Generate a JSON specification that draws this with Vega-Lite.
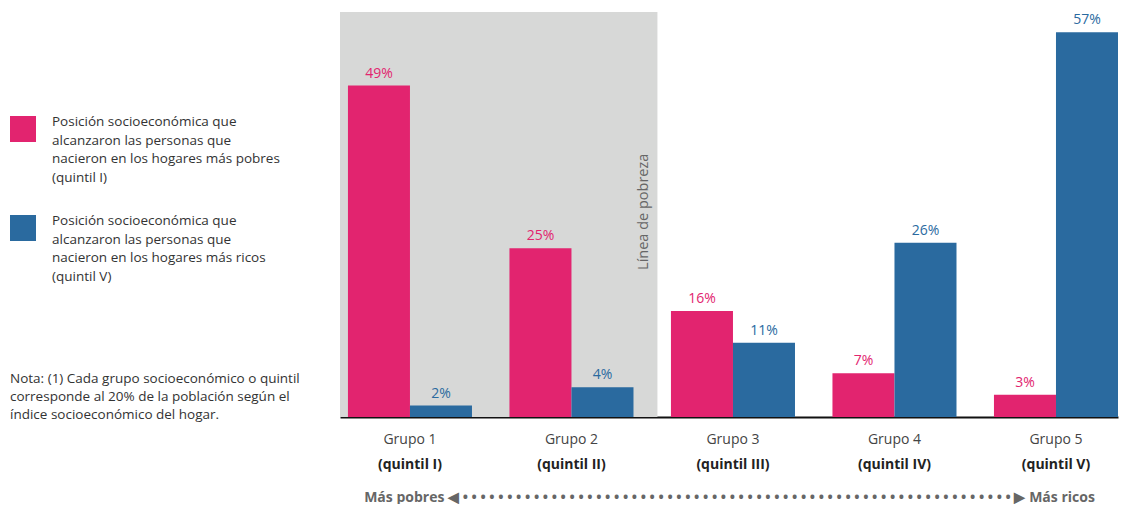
{
  "$schema": "https://vega.github.io/schema/vega-lite/v6.json",
  "width": 778,
  "height": 405,
  "padding": {"left": 10, "top": 12, "right": 10, "bottom": 0},
  "background": "white",
  "config": {
    "font": "Open Sans",
    "view": {"stroke": null},
    "style": {"guide-label": {"lineHeight": 18.5}}
  },
  "data": {
    "values": [
      {"grupo": "Grupo 1", "quintil": "(quintil I)", "serie": "pobres", "valor": 49.1, "etiqueta": "49%"},
      {"grupo": "Grupo 1", "quintil": "(quintil I)", "serie": "ricos", "valor": 1.7, "etiqueta": "2%"},
      {"grupo": "Grupo 2", "quintil": "(quintil II)", "serie": "pobres", "valor": 25.0, "etiqueta": "25%"},
      {"grupo": "Grupo 2", "quintil": "(quintil II)", "serie": "ricos", "valor": 4.4, "etiqueta": "4%"},
      {"grupo": "Grupo 3", "quintil": "(quintil III)", "serie": "pobres", "valor": 15.7, "etiqueta": "16%"},
      {"grupo": "Grupo 3", "quintil": "(quintil III)", "serie": "ricos", "valor": 11.0, "etiqueta": "11%"},
      {"grupo": "Grupo 4", "quintil": "(quintil IV)", "serie": "pobres", "valor": 6.5, "etiqueta": "7%"},
      {"grupo": "Grupo 4", "quintil": "(quintil IV)", "serie": "ricos", "valor": 25.8, "etiqueta": "26%"},
      {"grupo": "Grupo 5", "quintil": "(quintil V)", "serie": "pobres", "valor": 3.3, "etiqueta": "3%"},
      {"grupo": "Grupo 5", "quintil": "(quintil V)", "serie": "ricos", "valor": 57.0, "etiqueta": "57%"}
    ]
  },
  "layer": [
    {
      "data": {"values": [{"zona": "bajo la línea de pobreza"}]},
      "mark": {"type": "rect", "color": "#D7D8D7"},
      "encoding": {
        "x": {"datum": 0, "type": "quantitative", "scale": {"domain": [0, 5], "nice": false, "zero": false}, "axis": null},
        "x2": {"datum": 2.04},
        "y": {"datum": 0, "type": "quantitative", "scale": {"domain": [0, 60], "nice": false}, "axis": null},
        "y2": {"datum": 60}
      }
    },
    {
      "data": {"values": [{"texto": "Línea de pobreza"}]},
      "mark": {"type": "text", "angle": 270, "align": "center", "baseline": "alphabetic", "fontSize": 14.5, "fontWeight": "normal", "color": "#666666"},
      "encoding": {
        "x": {"datum": 1.98, "type": "quantitative", "scale": {"domain": [0, 5], "nice": false, "zero": false}, "axis": null},
        "y": {"datum": 30.4, "type": "quantitative", "scale": {"domain": [0, 60], "nice": false}, "axis": null},
        "text": {"field": "texto"}
      }
    },
    {
      "mark": {"type": "bar"},
      "encoding": {
        "x": {
          "field": "grupo", "type": "nominal", "sort": null,
          "scale": {"paddingInner": 0.232, "paddingOuter": 0.0246, "align": 1},
          "axis": {"orient": "bottom", "title": null, "domainColor": "#111111", "domainWidth": 2, "ticks": false, "labelAngle": 0, "labelFontSize": 14, "labelColor": "#444444", "labelPadding": 22, "labelBaseline": "middle"}
        },
        "xOffset": {"field": "serie", "type": "nominal", "sort": null, "scale": {"paddingInner": 0, "paddingOuter": 0}},
        "y": {"field": "valor", "type": "quantitative", "scale": {"domain": [0, 60], "nice": false}, "axis": null},
        "color": {
          "field": "serie", "type": "nominal", "sort": null,
          "scale": {"domain": ["pobres", "ricos"], "range": ["#E2246F", "#2A6A9F"]},
          "legend": {
            "orient": "none", "legendX": -330, "legendY": 104,
            "symbolType": "square", "symbolSize": 676, "symbolStrokeWidth": 0,
            "labelFontSize": 13.5, "labelColor": "#333333", "labelLimit": 400, "labelOffset": 16, "labelBaseline": "bottom",
            "labelExpr": "datum.label == 'pobres' ? ['Posición socioeconómica que', 'alcanzaron las personas que', 'nacieron en los hogares más pobres', '(quintil I)'] : ['Posición socioeconómica que', 'alcanzaron las personas que', 'nacieron en los hogares más ricos', '(quintil V)']",
            "rowPadding": 30,
            "title": ["Nota: (1) Cada grupo socioeconómico o quintil", "corresponde al 20% de la población según el", "índice socioeconómico del hogar."],
            "titleOrient": "bottom", "titleFontSize": 13.5, "titleFontWeight": "normal", "titleColor": "#333333", "titleLimit": 400, "titlePadding": 89, "titleLineHeight": 18
          }
        }
      }
    },
    {
      "mark": {"type": "text", "baseline": "alphabetic", "dy": -8, "fontSize": 14},
      "encoding": {
        "x": {
          "field": "quintil", "type": "nominal", "sort": null,
          "scale": {"paddingInner": 0.232, "paddingOuter": 0.0246, "align": 1},
          "axis": {"orient": "bottom", "domain": false, "ticks": false, "labelAngle": 0, "labelFontSize": 14, "labelFontWeight": "bold", "labelColor": "#222222", "labelPadding": 47, "labelBaseline": "middle",
            "title": "Más pobres  ◀ • • • • • • • • • • • • • • • • • • • • • • • • • • • • • • • • • • • • • • • • • • • • • • • • • • • • • • • • • • • • • • ▶  Más ricos",
            "titleFontSize": 14, "titleFontWeight": "bold", "titleColor": "#666666", "titlePadding": 19}
        },
        "xOffset": {"field": "serie", "type": "nominal", "sort": null, "scale": {"paddingInner": 0, "paddingOuter": 0}},
        "y": {"field": "valor", "type": "quantitative", "scale": {"domain": [0, 60], "nice": false}, "axis": null},
        "text": {"field": "etiqueta"},
        "color": {"field": "serie", "type": "nominal", "sort": null, "scale": {"domain": ["pobres", "ricos"], "range": ["#E2246F", "#2A6A9F"]}, "legend": null}
      }
    }
  ],
  "resolve": {"scale": {"x": "independent"}, "axis": {"x": "independent"}}
}
